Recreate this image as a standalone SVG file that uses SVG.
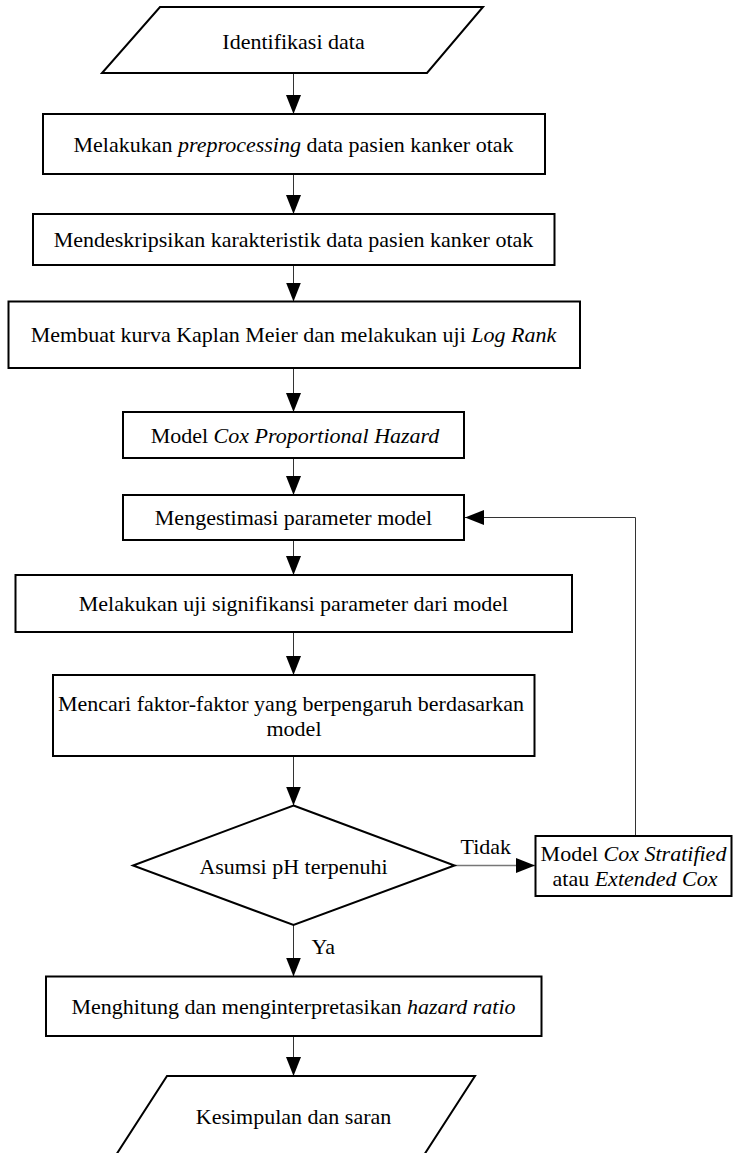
<svg xmlns="http://www.w3.org/2000/svg" width="733" height="1153" viewBox="0 0 733 1153">
<defs>
<style>
.shape{fill:#fff;stroke:#000;stroke-width:2}
.conn{fill:none;stroke:#333;stroke-width:1}
text{font-family:"Liberation Serif","Times New Roman",serif;font-size:22px;fill:#000}
.c{text-anchor:middle}
.i{font-style:italic}
</style>
<marker id="ah" markerUnits="userSpaceOnUse" markerWidth="19" markerHeight="16" refX="19" refY="8" orient="auto" viewBox="0 0 19 16">
<path d="M0,0.5 L19,8 L0,15.5 z" fill="#000"/>
</marker>
</defs>
<rect width="733" height="1153" fill="#fff"/>
<g id="connectors">
<line class="conn" x1="293.5" y1="73" x2="293.5" y2="114" marker-end="url(#ah)"/>
<line class="conn" x1="293.5" y1="174" x2="293.5" y2="214" marker-end="url(#ah)"/>
<line class="conn" x1="293.5" y1="265" x2="293.5" y2="301.5" marker-end="url(#ah)"/>
<line class="conn" x1="293.5" y1="368" x2="293.5" y2="412" marker-end="url(#ah)"/>
<line class="conn" x1="293.5" y1="458" x2="293.5" y2="495" marker-end="url(#ah)"/>
<line class="conn" x1="293.5" y1="540" x2="293.5" y2="575" marker-end="url(#ah)"/>
<line class="conn" x1="293.5" y1="632" x2="293.5" y2="675" marker-end="url(#ah)"/>
<line class="conn" x1="293.5" y1="756" x2="293.5" y2="805.5" marker-end="url(#ah)"/>
<line class="conn" x1="293.5" y1="925" x2="293.5" y2="976.5" marker-end="url(#ah)"/>
<line class="conn" x1="293.5" y1="1036" x2="293.5" y2="1076" marker-end="url(#ah)"/>
<line class="conn" x1="454.5" y1="865.5" x2="535" y2="865.5" stroke="#777" style="stroke:#777;stroke-width:1.5" marker-end="url(#ah)"/>
<polyline class="conn" points="635.5,836 635.5,517.5 465,517.5" marker-end="url(#ah)"/>
<text x="460.5" y="854">Tidak</text>
<text x="311.5" y="954">Ya</text>
</g>
<g id="n1">
<polygon class="shape" points="160,7 483,7 427,73 102,73"/>
<text class="c" x="293.5" y="49">Identifikasi data</text>
</g>
<g id="n2">
<rect class="shape" x="43" y="114" width="502" height="60"/>
<text class="c" x="293.5" y="152">Melakukan <tspan class="i">preprocessing</tspan> data pasien kanker otak</text>
</g>
<g id="n3">
<rect class="shape" x="33" y="214" width="521.5" height="51"/>
<text class="c" x="293.5" y="247">Mendeskripsikan karakteristik data pasien kanker otak</text>
</g>
<g id="n4">
<rect class="shape" x="8.5" y="301.5" width="571.5" height="66.5"/>
<text class="c" x="293.5" y="342">Membuat kurva Kaplan Meier dan melakukan uji <tspan class="i">Log Rank</tspan></text>
</g>
<g id="n5">
<rect class="shape" x="123" y="412" width="341" height="46"/>
<text class="c" x="295" y="443">Model <tspan class="i">Cox Proportional Hazard</tspan></text>
</g>
<g id="n6">
<rect class="shape" x="123" y="495" width="341" height="45"/>
<text class="c" x="293.5" y="525">Mengestimasi parameter model</text>
</g>
<g id="n7">
<rect class="shape" x="15.5" y="575" width="556.5" height="57"/>
<text class="c" x="293.5" y="611">Melakukan uji signifikansi parameter dari model</text>
</g>
<g id="n8">
<rect class="shape" x="53" y="675" width="481.5" height="81"/>
<text class="c" x="291" y="711">Mencari faktor-faktor yang berpengaruh berdasarkan</text>
<text class="c" x="294" y="735.5">model</text>
</g>
<g id="n9">
<polygon class="shape" points="293.5,805.5 454.5,865.5 293.5,925 133,865.5"/>
<text class="c" x="293.5" y="874">Asumsi pH terpenuhi</text>
</g>
<g id="n10">
<rect class="shape" x="535.5" y="836" width="196" height="60"/>
<text class="c" x="633.5" y="860.5">Model <tspan class="i">Cox Stratified</tspan></text>
<text class="c" x="635" y="886">atau <tspan class="i">Extended Cox</tspan></text>
</g>
<g id="n11">
<rect class="shape" x="46" y="976.5" width="495.5" height="59.5"/>
<text class="c" x="293.5" y="1014">Menghitung dan menginterpretasikan <tspan class="i">hazard ratio</tspan></text>
</g>
<g id="n12">
<polygon class="shape" points="167,1076 475,1076 424,1155 116,1155"/>
<text class="c" x="293.5" y="1124">Kesimpulan dan saran</text>
</g>
</svg>
